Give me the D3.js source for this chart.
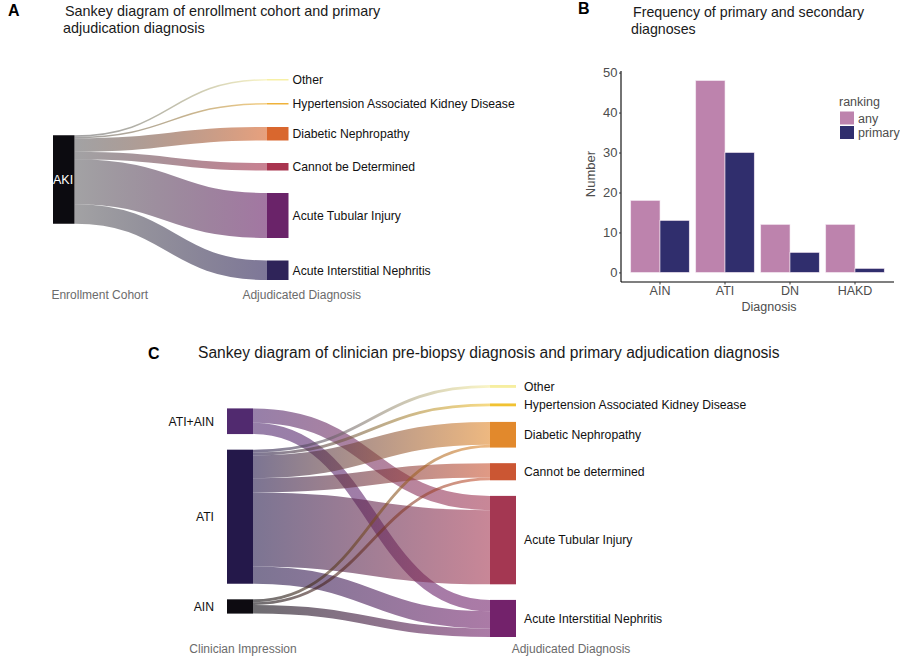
<!DOCTYPE html>
<html>
<head>
<meta charset="utf-8">
<script src="https://cdn.jsdelivr.net/npm/d3@7"></script>
<style>
  body { margin: 0; background: #fff; }
  svg text { font-family: "Liberation Sans", Arial, sans-serif; }
</style>
</head>
<body>
<svg id="fig" width="900" height="659"></svg>
<script>
// ---- Panel A: enrollment cohort -> primary adjudicated diagnosis
const aSources = ['AKI'];
const aTargets = ['Other', 'Hypertension Associated Kidney Disease', 'Diabetic Nephropathy',
                  'Cannot be Determined', 'Acute Tubular Injury', 'Acute Interstitial Nephritis'];
const aFromAki = [1, 1, 9, 5, 30, 13];

// ---- Panel B: frequency of diagnoses
const diagnoses = ['AIN', 'ATI', 'DN', 'HAKD'];
const rankings = ['any', 'primary'];
const anyCounts = [18, 48, 12, 12];
const primaryCounts = [13, 30, 5, 1];
const yTicks = [0, 10, 20, 30, 40, 50];

// ---- Panel C: clinician impression -> primary adjudicated diagnosis
const cSources = ['ATI+AIN', 'ATI', 'AIN'];
const cTargets = ['Other', 'Hypertension Associated Kidney Disease', 'Diabetic Nephropathy',
                  'Cannot be determined', 'Acute Tubular Injury', 'Acute Interstitial Nephritis'];
const cFromAtiAin = [0, 0, 0, 0, 5, 4];
const cFromAti = [1, 1, 8, 5, 26, 6];
const cFromAin = [0, 0, 1, 1, 0, 3];

// colours
const aSourceColors = ['#0c0b10'];
const aTargetColors = ['#f7f0a6', '#efb23a', '#d9672e', '#a8344f', '#6a2369', '#2f2459'];
const cSourceColors = ['#512a6f', '#24184a', '#0d0b11'];
const cTargetColors = ['#f6eea0', '#f1c232', '#e2892c', '#cb5633', '#a43752', '#73226b'];
const rankColors = ['#bd83ad', '#302e6d'];

const svg = d3.select('#fig');
const defs = svg.append('defs');
let gradId = 0;

// little sankey layout: two columns, nodes centred on the extent, links stacked in order
let drawSankey = (opt) => {
    let g = svg.append('g');
    let matrix = opt.matrix;
    let srcTotals = matrix.map(r => d3.sum(r));
    let tgtTotals = opt.targets.map((t, j) => d3.sum(matrix, r => r[j]));
    let maxN = Math.max(opt.sources.length, opt.targets.length);
    let k = d3.scaleLinear()
        .domain([0, d3.max([d3.sum(srcTotals), d3.sum(tgtTotals)])])
        .range([0, (opt.y1 - opt.y0) - (maxN - 1) * opt.pad]);
    let mid = (opt.y0 + opt.y1) / 2;

    let place = (totals) => {
        let h = k(d3.sum(totals)) + (totals.length - 1) * opt.pad;
        let y = mid - h / 2;
        return totals.map(v => {
            let n = {y0: y, y1: y + k(v)};
            y = n.y1 + opt.pad;
            return n;
        });
    };
    let left = place(srcTotals);
    let right = place(tgtTotals);

    let links = [];
    opt.sources.forEach((s, i) => opt.targets.forEach((t, j) => {
        if (matrix[i][j] > 0) links.push({i: i, j: j, v: matrix[i][j], w: k(matrix[i][j])});
    }));
    let srcOff = left.map(n => n.y0);
    links.forEach(l => { l.ys = srcOff[l.i] + l.w / 2; srcOff[l.i] += l.w; });
    let tgtOff = right.map(n => n.y0);
    opt.targets.forEach((t, j) => {
        links.filter(l => l.j === j).forEach(l => { l.yt = tgtOff[j] + l.w / 2; tgtOff[j] += l.w; });
    });

    let xs = opt.xLeft + opt.nodeW;
    let xt = opt.xRight;
    let linkPath = d3.linkHorizontal();

    links.forEach(l => {
        let id = 'grad' + (gradId++);
        let lg = defs.append('linearGradient')
            .attr('id', id)
            .attr('gradientUnits', 'userSpaceOnUse')
            .attr('x1', xs).attr('x2', xt).attr('y1', 0).attr('y2', 0);
        lg.append('stop').attr('offset', '0%')
            .attr('stop-color', opt.srcColors[l.i]).attr('stop-opacity', opt.op0);
        lg.append('stop').attr('offset', '100%')
            .attr('stop-color', opt.tgtColors[l.j]).attr('stop-opacity', opt.op1);
        g.append('path')
            .attr('d', linkPath({source: [xs, l.ys], target: [xt, l.yt]}))
            .attr('fill', 'none')
            .attr('stroke', 'url(#' + id + ')')
            .attr('stroke-width', Math.max(1, l.w));
    });

    g.selectAll('rect.src').data(left).enter().append('rect')
        .attr('x', opt.xLeft).attr('width', opt.nodeW)
        .attr('y', d => d.y0).attr('height', d => Math.max(1, d.y1 - d.y0))
        .attr('fill', (d, i) => opt.srcColors[i]);
    g.selectAll('rect.tgt').data(right).enter().append('rect')
        .attr('x', opt.xRight).attr('width', opt.nodeW)
        .attr('y', d => d.y0).attr('height', d => Math.max(1.5, d.y1 - d.y0))
        .attr('fill', (d, j) => opt.tgtColors[j]);

    // labels
    g.selectAll('text.tgt').data(right).enter().append('text')
        .attr('x', opt.xRight + opt.nodeW + opt.labelGap)
        .attr('y', d => (d.y0 + d.y1) / 2)
        .attr('dy', '0.35em')
        .attr('font-size', 12.2)
        .attr('fill', '#111')
        .text((d, j) => opt.targets[j]);
    if (opt.inside) {
        g.selectAll('text.src').data(left).enter().append('text')
            .attr('x', opt.xLeft)
            .attr('y', d => (d.y0 + d.y1) / 2)
            .attr('dy', '0.35em')
            .attr('font-size', 12.5)
            .attr('fill', '#fff')
            .text((d, i) => opt.sources[i]);
    } else {
        g.selectAll('text.src').data(left).enter().append('text')
            .attr('x', opt.xLeft - 13)
            .attr('y', d => (d.y0 + d.y1) / 2)
            .attr('dy', '0.35em')
            .attr('text-anchor', 'end')
            .attr('font-size', 12.2)
            .attr('fill', '#111')
            .text((d, i) => opt.sources[i]);
    }

    // column titles
    g.append('text')
        .attr('x', opt.xLeft + opt.nodeW / 2 + opt.capShiftL).attr('y', opt.capY)
        .attr('text-anchor', 'middle').attr('font-size', 12).attr('fill', '#6b6b6b')
        .text(opt.leftCap);
    g.append('text')
        .attr('x', opt.xRight + opt.nodeW / 2 + opt.capShiftR).attr('y', opt.capY)
        .attr('text-anchor', 'middle').attr('font-size', 12).attr('fill', '#6b6b6b')
        .text(opt.rightCap);
};

// panel letters and titles
let heading = (letter, lx, ly, lines, tx, ty, fs) => {
    svg.append('text').attr('x', lx).attr('y', ly)
        .attr('font-size', 16).attr('font-weight', 900).attr('fill', '#000')
        .text(letter);
    lines.forEach((s, i) => {
        svg.append('text').attr('x', tx - (i > 0 ? 2 : 0)).attr('y', ty + i * 17)
            .attr('font-size', fs).attr('fill', '#1a1a1a').text(s);
    });
};

heading('A', 8, 16, ['Sankey diagram of enrollment cohort and primary', 'adjudication diagnosis'], 65, 16, 14.4);
heading('B', 578, 14, ['Frequency of primary and secondary', 'diagnoses'], 633, 17, 14.2);
heading('C', 148, 359, ['Sankey diagram of clinician pre-biopsy diagnosis and primary adjudication diagnosis'], 198, 358, 15.6);

drawSankey({
    sources: aSources, targets: aTargets, matrix: [aFromAki],
    srcColors: aSourceColors, tgtColors: aTargetColors,
    xLeft: 53, xRight: 267, nodeW: 21.5, y0: 79, y1: 280, pad: 22.5,
    op0: 0.38, op1: 0.62, inside: true, labelGap: 4,
    leftCap: 'Enrollment Cohort', rightCap: 'Adjudicated Diagnosis',
    capShiftL: 36, capShiftR: 24, capY: 299
});

drawSankey({
    sources: cSources, targets: cTargets, matrix: [cFromAtiAin, cFromAti, cFromAin],
    srcColors: cSourceColors, tgtColors: cTargetColors,
    xLeft: 227, xRight: 490, nodeW: 26, y0: 385, y1: 637, pad: 15.6,
    op0: 0.6, op1: 0.6, inside: false, labelGap: 8,
    leftCap: 'Clinician Impression', rightCap: 'Adjudicated Diagnosis',
    capShiftL: 3, capShiftR: 68, capY: 653
});

// ---- Panel B bar chart
let bx = d3.scaleBand().domain(diagnoses).range([621, 894]).paddingInner(0.1).paddingOuter(0.15);
let bxInner = d3.scaleBand().domain(rankings).range([0, bx.bandwidth()]);
let by = d3.scaleLinear().domain([-2.4, 50.4]).range([282, 71]);
let gB = svg.append('g');

let barData = diagnoses.map((d, i) => ({d: d, vals: [anyCounts[i], primaryCounts[i]]}));
gB.selectAll('g.grp').data(barData).enter().append('g')
    .attr('transform', d => 'translate(' + bx(d.d) + ',0)')
    .selectAll('rect').data(d => d.vals.map((v, r) => ({r: rankings[r], v: v, c: rankColors[r]})))
    .enter().append('rect')
    .attr('x', d => bxInner(d.r))
    .attr('width', bxInner.bandwidth())
    .attr('y', d => by(d.v))
    .attr('height', d => by(0) - by(d.v))
    .attr('fill', d => d.c)
    .attr('stroke', '#f3e6f0')
    .attr('stroke-width', 0.6);

let yAxis = d3.axisLeft(by).tickValues(yTicks).tickSize(2).tickPadding(1.5);
let gY = gB.append('g').attr('transform', 'translate(621,0)').call(yAxis);
gY.select('.domain').attr('d', 'M0,' + by.range()[1] + 'V' + by.range()[0]).attr('stroke', '#000').attr('stroke-width', 1.1);
gY.selectAll('.tick line').attr('stroke', '#333');
gY.selectAll('.tick text').attr('font-size', 13).attr('fill', '#4d4d4d')
    .style('font-family', '"Liberation Sans", Arial, sans-serif');

let xAxis = d3.axisBottom(bx).tickSize(2.5).tickPadding(2);
let gX = gB.append('g').attr('transform', 'translate(0,282)').call(xAxis);
gX.select('.domain').attr('d', 'M621,0H894').attr('stroke', '#000').attr('stroke-width', 1.1);
gX.selectAll('.tick line').attr('stroke', '#333');
gX.selectAll('.tick text').attr('font-size', 12.5).attr('fill', '#4d4d4d')
    .style('font-family', '"Liberation Sans", Arial, sans-serif');

gB.append('text').attr('x', 769).attr('y', 311).attr('text-anchor', 'middle')
    .attr('font-size', 12.5).attr('fill', '#4d4d4d').text('Diagnosis');
gB.append('text').attr('transform', 'translate(595,174) rotate(-90)').attr('text-anchor', 'middle')
    .attr('font-size', 13).attr('fill', '#4d4d4d').text('Number');

// legend
gB.append('text').attr('x', 839).attr('y', 106).attr('font-size', 12.5).attr('fill', '#4d4d4d').text('ranking');
rankings.forEach((r, i) => {
    gB.append('rect').attr('x', 840).attr('y', 111.5 + i * 14.5).attr('width', 14).attr('height', 13)
        .attr('fill', rankColors[i]);
    gB.append('text').attr('x', 858).attr('y', 122.5 + i * 14.5).attr('font-size', 12.5)
        .attr('fill', '#4d4d4d').text(r);
});
</script>
</body>
</html>
